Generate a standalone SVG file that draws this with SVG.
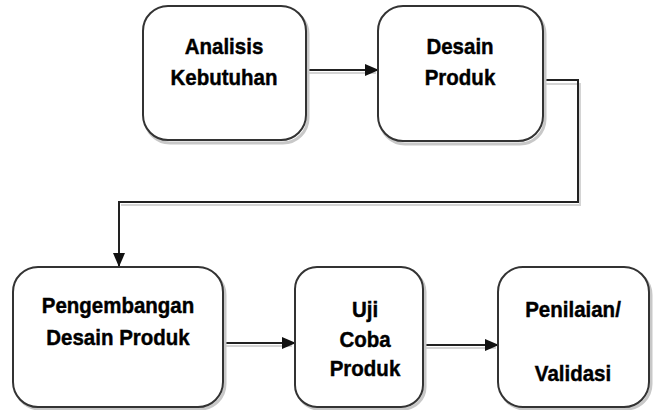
<svg xmlns="http://www.w3.org/2000/svg" width="653" height="410" viewBox="0 0 653 410">
<style>
.box{fill:#fff;stroke:#333;stroke-width:2}
.sh{fill:none;stroke:#c8c8c8;stroke-width:3}
.t{font-family:"Liberation Sans",Arial,sans-serif;font-weight:bold;font-size:20.5px;fill:#000;stroke:#000;stroke-width:0.4;text-anchor:middle}
.c{fill:none;stroke:#222;stroke-width:2}
.cs{fill:none;stroke:#d4d4d4;stroke-width:2}
</style>
<defs>
<marker id="ah" markerWidth="14" markerHeight="12" refX="13" refY="6" orient="auto" markerUnits="userSpaceOnUse">
<path d="M0,0 L14,6 L0,12 Z" fill="#111"/>
</marker>
</defs>
<g id="connectors">
<path class="cs" d="M307,73 H376"/>
<path class="cs" d="M544,84 H580 V205 H121"/>
<path class="cs" d="M224,346 H292"/>
<path class="cs" d="M424,348 H496"/>
<path class="c" d="M306,70 H378" marker-end="url(#ah)"/>
<path class="c" d="M543,80 H578 V202 H119 V266" marker-end="url(#ah)"/>
<path class="c" d="M223,343 H295" marker-end="url(#ah)"/>
<path class="c" d="M423,345 H498" marker-end="url(#ah)"/>
</g>
<g id="n1">
<rect class="sh" x="145" y="9" width="163" height="134" rx="25"/>
<rect class="box" x="143" y="6" width="163" height="134" rx="25"/>
<text class="t" transform="translate(224,54) scale(1,1.12)">Analisis</text>
<text class="t" transform="translate(224,85) scale(1,1.12)">Kebutuhan</text>
</g>
<g id="n2">
<rect class="sh" x="380" y="9" width="165" height="135" rx="25"/>
<rect class="box" x="378" y="6" width="165" height="135" rx="25"/>
<text class="t" transform="translate(460,54) scale(1,1.12)">Desain</text>
<text class="t" transform="translate(460,85) scale(1,1.12)">Produk</text>
</g>
<g id="n3">
<rect class="sh" x="15" y="270" width="210" height="139" rx="25"/>
<rect class="box" x="13" y="267" width="210" height="140" rx="25"/>
<text class="t" transform="translate(118,313) scale(1,1.12)">Pengembangan</text>
<text class="t" transform="translate(118,345) scale(1,1.12)">Desain Produk</text>
</g>
<g id="n4">
<rect class="sh" x="297" y="270" width="128" height="139" rx="22"/>
<rect class="box" x="295" y="267" width="128" height="140" rx="22"/>
<text class="t" transform="translate(365,317) scale(1,1.12)">Uji</text>
<text class="t" transform="translate(365,347) scale(1,1.12)">Coba</text>
<text class="t" transform="translate(365,376) scale(1,1.12)">Produk</text>
</g>
<g id="n5">
<rect class="sh" x="500" y="270" width="151" height="139" rx="25"/>
<rect class="box" x="498" y="267" width="151" height="140" rx="25"/>
<text class="t" transform="translate(573,317) scale(1,1.12)">Penilaian/</text>
<text class="t" transform="translate(573,381) scale(1,1.12)">Validasi</text>
</g>
</svg>
